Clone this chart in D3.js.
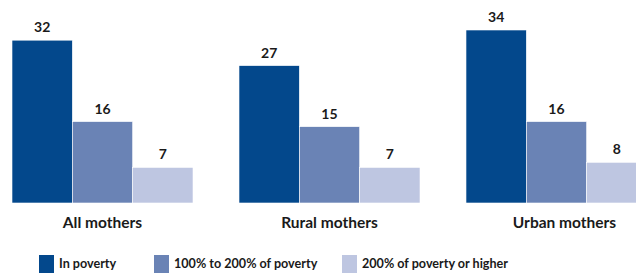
<!DOCTYPE html>
<html>
<head>
<meta charset="utf-8">
<script src="https://d3js.org/d3.v7.min.js"></script>
<style>
  html, body { margin: 0; padding: 0; background: #fff; }
  svg { display: block; }
  text { font-family: Lato, "Open Sans", sans-serif; font-weight: 700; fill: #1a1a1a; }
</style>
</head>
<body>
<svg id="chart" width="636" height="273"></svg>
<script>
const groups = ["All mothers", "Rural mothers", "Urban mothers"];
const seriesNames = ["In poverty", "100% to 200% of poverty", "200% of poverty or higher"];
const inPoverty = [32, 27, 34];
const poverty100to200 = [16, 15, 16];
const poverty200plus = [7, 7, 8];
const colors = ["#03488c", "#6a83b5", "#bec6e1"];

const seriesValues = [inPoverty, poverty100to200, poverty200plus];

const svg = d3.select("#chart");
const baseline = 203;

const x0 = d3.scaleBand().domain(groups).range([12, 647]).paddingInner(0.2026).paddingOuter(0);
const x1 = d3.scaleBand().domain(seriesNames).range([0, x0.bandwidth()]).padding(0);
const y = d3.scaleLinear().domain([0, 34]).range([baseline, 30]);
const color = d3.scaleOrdinal().domain(seriesNames).range(colors);

const data = groups.map((g, gi) => ({
  group: g,
  values: seriesNames.map((s, si) => ({ series: s, value: seriesValues[si][gi] }))
}));

const gGroups = svg.selectAll("g.group").data(data).join("g")
  .attr("class", "group")
  .attr("transform", d => `translate(${x0(d.group)},0)`);

gGroups.selectAll("rect").data(d => d.values).join("rect")
  .attr("x", d => x1(d.series))
  .attr("y", d => y(d.value))
  .attr("width", x1.bandwidth())
  .attr("height", d => y(0) - y(d.value))
  .attr("fill", d => color(d.series))
  .attr("stroke", "#ffffff")
  .attr("stroke-width", 0.6);

gGroups.selectAll("text.val").data(d => d.values).join("text")
  .attr("class", "val")
  .attr("x", d => x1(d.series) + x1.bandwidth() / 2)
  .attr("y", d => y(d.value) - 8)
  .attr("text-anchor", "middle")
  .style("font-size", "14px")
  .text(d => d.value);

// Category axis labels
const xAxis = d3.axisBottom(x0).tickSize(0).tickPadding(0);
const axisG = svg.append("g").attr("transform", `translate(0,${baseline})`).call(xAxis);
axisG.select(".domain").remove();
axisG.selectAll("text")
  .attr("y", 25)
  .attr("dy", 0)
  .attr("dx", (d, i) => i === groups.length - 1 ? 8 : 0)
  .style("font-size", "15.5px")
  .style("fill", "#1a1a1a")
  .style("font-family", "Lato, 'Open Sans', sans-serif")
  .style("font-weight", 700);

// Legend
const legendX = [39, 154, 342];
const legend = svg.selectAll("g.legend").data(seriesNames).join("g")
  .attr("class", "legend")
  .attr("transform", (d, i) => `translate(${legendX[i]},255)`);
legend.append("rect")
  .attr("width", 15).attr("height", 18)
  .attr("fill", d => color(d));
legend.append("text")
  .attr("x", 20).attr("y", 13)
  .style("font-size", "12.6px")
  .text(d => d);
</script>
</body>
</html>
